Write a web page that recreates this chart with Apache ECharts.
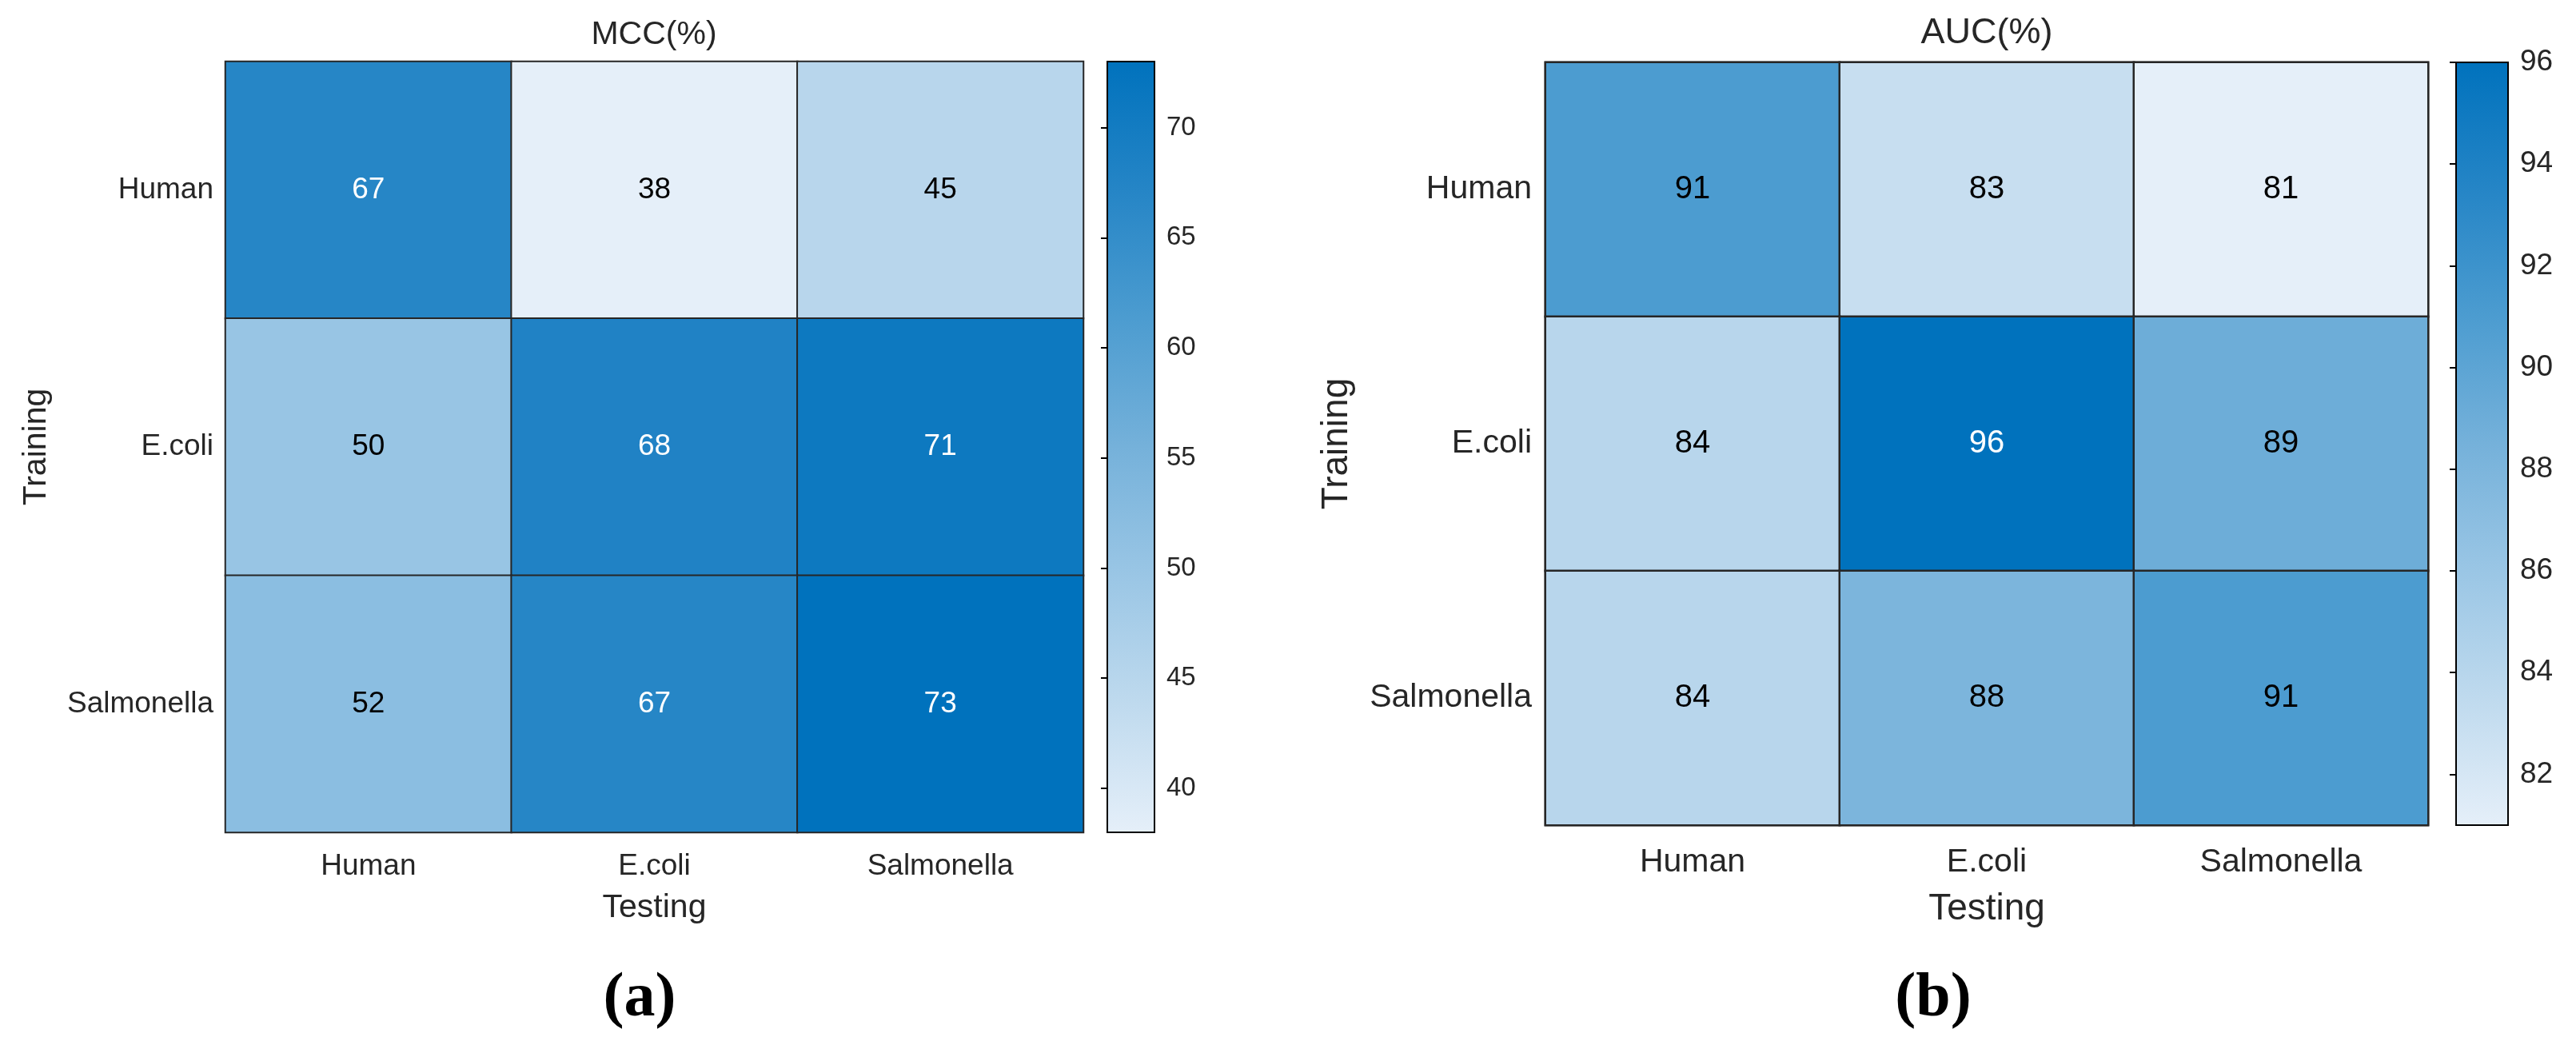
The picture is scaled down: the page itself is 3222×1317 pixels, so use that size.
<!DOCTYPE html>
<html><head><meta charset="utf-8">
<script src="https://cdn.jsdelivr.net/npm/echarts@6/dist/echarts.min.js"></script>
<style>html,body{margin:0;padding:0;background:#fff}#c{width:3222px;height:1317px}</style>
</head><body><div id="c"></div>
<script>
// ---- data ----
const testingLabels = ['Human', 'E.coli', 'Salmonella'];
const trainingLabels = ['Human', 'E.coli', 'Salmonella'];
// rows = training, columns = testing
const mccValues = [[67, 38, 45], [50, 68, 71], [52, 67, 73]];
const aucValues = [[91, 83, 81], [84, 96, 89], [84, 88, 91]];
const mccRange = [38, 73];
const aucRange = [81, 96];
const mccTicks = [40, 45, 50, 55, 60, 65, 70];
const aucTicks = [82, 84, 86, 88, 90, 92, 94, 96];
const colormap = ['#E5EFF9', '#BFDAEE', '#9AC6E5', '#75B1DA', '#4C9CD0', '#2585C6', '#0072BD'];

const FONT = 'Liberation Sans';
const TXT = '#262626';

function cells(values, range) {
  const out = [];
  values.forEach((row, r) => row.forEach((v, c) => {
    const t = (v - range[0]) / (range[1] - range[0]);
    out.push({ value: [c, r, v], label: { color: t > 0.75 ? '#ffffff' : '#000000' } });
  }));
  return out;
}
const stops = colormap.map((c, i) => ({ offset: i / (colormap.length - 1), color: c }));

function panel(idx, cfg) {
  const g = idx * 2;
  return {
    grids: [
      { left: cfg.hm[0], top: cfg.hm[1], width: cfg.hm[2], height: cfg.hm[3], show: true,
        borderColor: TXT, borderWidth: cfg.bw, backgroundColor: 'transparent', containLabel: false },
      { left: cfg.cb[0], top: cfg.cb[1], width: cfg.cb[2], height: cfg.cb[3], containLabel: false }
    ],
    xAxes: [
      { type: 'category', gridIndex: g, data: testingLabels, name: 'Testing', nameLocation: 'middle',
        nameGap: cfg.xNameGap, nameTextStyle: { fontSize: cfg.nameFs, fontFamily: FONT, color: TXT },
        axisLine: { show: false }, axisTick: { show: false }, splitLine: { show: false },
        axisLabel: { fontSize: cfg.labFs, fontFamily: FONT, color: TXT, margin: cfg.xLabMargin } },
      { type: 'value', gridIndex: g + 1, min: 0, max: 1, show: false }
    ],
    yAxes: [
      { type: 'category', gridIndex: g, data: trainingLabels, inverse: true, name: 'Training',
        nameLocation: 'middle', nameGap: cfg.yNameGap, nameRotate: 90,
        nameTextStyle: { fontSize: cfg.nameFs, fontFamily: FONT, color: TXT },
        axisLine: { show: false }, axisTick: { show: false }, splitLine: { show: false },
        axisLabel: { fontSize: cfg.labFs, fontFamily: FONT, color: TXT, margin: cfg.yLabMargin } },
      { type: 'value', gridIndex: g + 1, min: cfg.range[0], max: cfg.range[1], position: 'right', z: 10,
        axisLine: { show: false }, splitLine: { show: false },
        axisTick: { show: true, inside: true, length: 8, lineStyle: { color: '#000', width: 2 }, customValues: cfg.ticks },
        axisLabel: { show: true, margin: 15, fontSize: cfg.cbFs, fontFamily: FONT, color: TXT, customValues: cfg.ticks } }
    ],
    series: [
      { type: 'heatmap', xAxisIndex: g, yAxisIndex: g, data: cells(cfg.values, cfg.range),
        itemStyle: { borderColor: TXT, borderWidth: cfg.bw },
        label: { show: true, fontSize: cfg.cellFs, fontFamily: FONT, formatter: p => p.value[2] },
        emphasis: { disabled: true } },
      { type: 'custom', xAxisIndex: g + 1, yAxisIndex: g + 1, data: [[0, cfg.range[0], cfg.range[1]]],
        encode: { x: 0, y: [1, 2] }, silent: true,
        renderItem: (params, api) => {
          const top = api.coord([0, api.value(2)]);
          const bot = api.coord([0, api.value(1)]);
          const cs = params.coordSys;
          return { type: 'rect', shape: { x: cs.x, y: top[1], width: cs.width, height: bot[1] - top[1] },
            style: { fill: new echarts.graphic.LinearGradient(0, 1, 0, 0, stops), stroke: '#000', lineWidth: 2 } };
        } }
    ],
    visualMap: { type: 'continuous', show: false, seriesIndex: idx * 2, min: cfg.range[0], max: cfg.range[1],
      inRange: { color: colormap } }
  };
}

const A = panel(0, { hm: [282, 77, 1073, 964], cb: [1385, 77, 59, 964], bw: 2, values: mccValues, range: mccRange,
  ticks: mccTicks, labFs: 37, cellFs: 37, nameFs: 41, cbFs: 33, xNameGap: 74, yNameGap: 216, xLabMargin: 24, yLabMargin: 15 });
const B = panel(1, { hm: [1933, 78, 1104, 954], cb: [3072, 78, 65, 954], bw: 2.5, values: aucValues, range: aucRange,
  ticks: aucTicks, labFs: 41, cellFs: 40, nameFs: 46, cbFs: 37, xNameGap: 82, yNameGap: 238, xLabMargin: 26, yLabMargin: 17 });

const chart = echarts.init(document.getElementById('c'), null, { renderer: 'canvas' });
chart.setOption({
  backgroundColor: '#ffffff',
  animation: false,
  grid: [...A.grids, ...B.grids],
  xAxis: [...A.xAxes, ...B.xAxes],
  yAxis: [...A.yAxes, ...B.yAxes],
  series: [...A.series, ...B.series],
  visualMap: [A.visualMap, B.visualMap],
  graphic: [
    { type: 'text', x: 818, y: 44, style: { text: 'MCC(%)', fontSize: 41, fontFamily: FONT, fill: TXT, align: 'center', verticalAlign: 'middle' } },
    { type: 'text', x: 2485, y: 42, style: { text: 'AUC(%)', fontSize: 45, fontFamily: FONT, fill: TXT, align: 'center', verticalAlign: 'middle' } },
    { type: 'text', x: 800, y: 1250, style: { text: '(a)', fontSize: 78, fontWeight: 'bold', fontFamily: 'Liberation Serif', fill: '#000', align: 'center', verticalAlign: 'middle' } },
    { type: 'text', x: 2418, y: 1250, style: { text: '(b)', fontSize: 78, fontWeight: 'bold', fontFamily: 'Liberation Serif', fill: '#000', align: 'center', verticalAlign: 'middle' } }
  ]
});
</script></body></html>
